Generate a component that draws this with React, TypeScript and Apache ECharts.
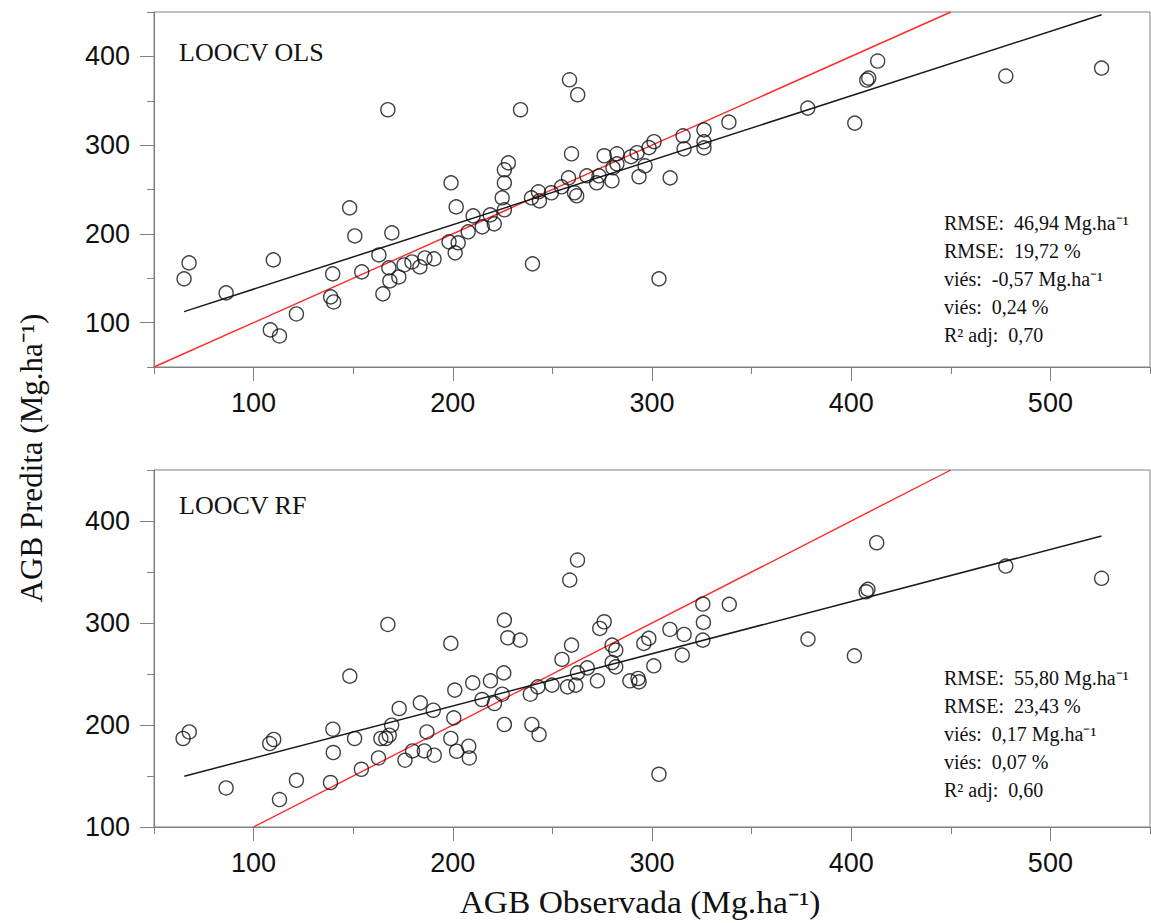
import React, { useEffect, useRef } from "react";
import * as echarts from "echarts";

// ---- Data ----
const olsObs = [
  65.1, 67.6, 86.2, 109.9, 108.4, 113.0, 121.5, 138.7, 140.2, 139.7,
  148.2, 150.8, 154.3, 162.9, 164.9, 167.4, 167.9, 168.4, 169.4, 172.9,
  175.5, 179.5, 183.5, 186.0, 190.6, 199.1, 201.7, 198.1, 202.7, 201.2,
  207.7, 210.2, 214.8, 218.8, 220.8, 225.9, 224.8, 225.9, 225.9, 227.9,
  234.0, 239.5, 240.0, 243.0, 243.5, 249.5, 254.6, 258.1, 258.6, 259.6,
  261.1, 262.2, 262.7, 267.3, 272.2, 273.4, 276.0, 279.9, 280.4, 282.4,
  282.4, 289.5, 292.5, 293.5, 296.5, 298.5, 301.0, 303.5, 309.1, 315.6,
  316.1, 326.1, 326.1, 326.1, 338.6, 378.2, 401.8, 407.8, 408.8, 413.3,
  477.6, 525.7,
];
const olsPred = [
  149.3, 167.3, 133.5, 170.7, 91.8, 85.0, 109.8, 129.0, 123.3, 154.9,
  229.3, 197.7, 157.2, 176.3, 132.4, 339.9, 161.7, 147.0, 201.1, 151.5,
  165.0, 168.4, 162.8, 172.9, 171.8, 257.5, 230.4, 191.0, 189.9, 178.6,
  202.3, 220.3, 207.9, 221.4, 211.3, 227.1, 240.6, 257.5, 272.2, 280.0,
  339.9, 240.6, 166.2, 247.4, 237.2, 246.3, 253.0, 263.1, 373.6, 290.2,
  246.3, 242.9, 356.8, 265.4, 257.5, 265.4, 288.0, 259.8, 274.4, 290.2,
  278.9, 287.0, 291.5, 264.4, 276.7, 297.2, 303.9, 149.3, 263.1, 310.5,
  295.8, 317.2, 303.7, 296.9, 325.9, 341.7, 324.8, 373.3, 375.5, 394.7,
  377.8, 386.8,
];
const rfObs = [
  64.6, 67.7, 86.2, 108.1, 110.1, 113.0, 121.5, 138.6, 140.0, 139.8,
  148.3, 150.7, 154.1, 162.7, 163.9, 167.4, 166.4, 168.1, 169.3, 173.1,
  176.0, 179.8, 183.7, 185.7, 187.0, 190.2, 190.7, 199.0, 201.0, 200.5,
  199.0, 201.9, 208.0, 208.3, 210.0, 214.7, 218.9, 220.9, 224.8, 225.6,
  225.9, 225.9, 227.6, 233.8, 238.9, 239.7, 242.7, 243.3, 249.8, 254.8,
  257.6, 258.7, 259.6, 261.7, 262.6, 262.6, 267.5, 272.6, 273.8, 276.0,
  280.0, 280.0, 281.8, 281.8, 288.9, 293.0, 293.5, 295.9, 298.4, 300.9,
  303.5, 309.0, 315.2, 316.1, 325.5, 325.8, 325.5, 338.8, 378.3, 401.6,
  407.5, 408.4, 412.8, 477.6, 525.7,
];
const rfPred = [
  186.8, 193.2, 138.3, 181.8, 185.8, 126.9, 145.8, 143.6, 173.0, 195.9,
  247.9, 186.8, 156.6, 167.7, 186.8, 298.6, 186.8, 190.0, 199.8, 216.2,
  165.5, 174.6, 221.7, 174.6, 193.2, 214.5, 170.4, 280.0, 234.2, 207.0,
  186.8, 174.3, 179.2, 167.7, 241.3, 225.0, 243.3, 221.1, 230.2, 251.1,
  302.8, 200.5, 285.5, 283.2, 230.2, 200.5, 237.4, 190.7, 239.1, 264.3,
  237.4, 342.1, 278.3, 239.1, 251.1, 361.7, 256.0, 243.3, 294.7, 301.2,
  278.3, 261.3, 273.4, 257.0, 243.3, 245.6, 242.3, 280.0, 284.9, 258.0,
  151.7, 293.7, 268.5, 288.8, 318.6, 300.6, 283.2, 318.3, 284.2, 267.8,
  330.6, 333.0, 378.7, 355.8, 343.8,
];
const olsFit = [[65.1, 112.4], [525.7, 446.9]];
const rfFit = [[65.2, 149.8], [525.7, 385.3]];
const olsIdentity = [[50, 50], [450, 450]];
const rfIdentity = [[100, 100], [450, 450]];
const xTickLabels = [100, 200, 300, 400, 500];
const yTickLabels = [100, 200, 300, 400];
const olsStats = [
  "RMSE:\u00a0 46,94 Mg.ha\u207b\u00b9",
  "RMSE:\u00a0 19,72 %",
  "viés:\u00a0 -0,57 Mg.ha\u207b\u00b9",
  "viés:\u00a0 0,24 %",
  "R\u00b2 adj:\u00a0 0,70",
];
const rfStats = [
  "RMSE:\u00a0 55,80 Mg.ha\u207b\u00b9",
  "RMSE:\u00a0 23,43 %",
  "viés:\u00a0 0,17 Mg.ha\u207b\u00b9",
  "viés:\u00a0 0,07 %",
  "R\u00b2 adj:\u00a0 0,60",
];
const panelTitles = ["LOOCV OLS", "LOOCV RF"];
const xTitle = "AGB Observada (Mg.ha\u207b\u00b9)";
const yTitle = "AGB Predita (Mg.ha\u207b\u00b9)";

const AX = "#808080";
const SANS = "Liberation Sans, Arial, sans-serif";
const SERIF = "Liberation Serif, Times New Roman, serif";

function pairs(xs: number[], ys: number[]) {
  return xs.map((x, i) => [x, ys[i]]);
}

function xAxes(gridIndex: number) {
  return [
    {
      type: "value", gridIndex, min: 50, max: 550, interval: 50, position: "bottom",
      axisLine: { show: true, onZero: false, lineStyle: { color: AX, width: 1 } },
      axisTick: { show: true, length: 7, lineStyle: { color: AX, width: 1 } },
      axisLabel: { show: false }, splitLine: { show: false },
    },
    {
      type: "value", gridIndex, min: 50, max: 550, position: "bottom",
      axisLine: { show: false, onZero: false },
      axisTick: { show: true, length: 14, customValues: xTickLabels, lineStyle: { color: AX, width: 1 } },
      axisLabel: { show: true, customValues: xTickLabels, margin: 22, fontSize: 27, fontFamily: SANS, color: "#111" },
      splitLine: { show: false },
    },
  ];
}

function yAxes(gridIndex: number, min: number) {
  return [
    {
      type: "value", gridIndex, min, max: 450, interval: 50, position: "left",
      axisLine: { show: true, onZero: false, lineStyle: { color: AX, width: 1 } },
      axisTick: { show: true, length: 7, lineStyle: { color: AX, width: 1 } },
      axisLabel: { show: false }, splitLine: { show: false },
    },
    {
      type: "value", gridIndex, min, max: 450, position: "left",
      axisLine: { show: false, onZero: false },
      axisTick: { show: true, length: 14, customValues: yTickLabels, lineStyle: { color: AX, width: 1 } },
      axisLabel: { show: true, customValues: yTickLabels, margin: 24, fontSize: 27, fontFamily: SANS, color: "#111" },
      splitLine: { show: false },
    },
  ];
}

function panelSeries(axisIdx: number, obs: number[], pred: number[], fit: number[][], ident: number[][]) {
  return [
    {
      type: "line", xAxisIndex: axisIdx, yAxisIndex: axisIdx, data: ident,
      symbol: "none", lineStyle: { color: "#ff2a2a", width: 1.4 }, silent: true, z: 2,
    },
    {
      type: "line", xAxisIndex: axisIdx, yAxisIndex: axisIdx, data: fit,
      symbol: "none", lineStyle: { color: "#1a1a1a", width: 1.5 }, silent: true, z: 2,
    },
    {
      type: "scatter", xAxisIndex: axisIdx, yAxisIndex: axisIdx, data: pairs(obs, pred),
      symbol: "circle", symbolSize: 14,
      itemStyle: { color: "rgba(0,0,0,0)", borderColor: "#111", borderWidth: 1.4 },
      silent: true, z: 3,
    },
  ];
}

function statTexts(lines: string[], top: number) {
  return lines.map((t, i) => ({
    type: "text", left: 944, top: top + i * 28,
    style: { text: t, fontSize: 20, fontFamily: SERIF, fill: "#111" },
  }));
}

export default function App() {
  const ref = useRef<HTMLDivElement>(null);
  useEffect(() => {
    document.body.style.margin = "0";
    if (!ref.current) return;
    const chart = echarts.init(ref.current, undefined, { renderer: "svg" });
    const option: any = {
      animation: false,
      backgroundColor: "#ffffff",
      grid: [
        { left: 154, top: 12, width: 996, height: 355, show: true, borderColor: AX, borderWidth: 1, backgroundColor: "transparent" },
        { left: 154, top: 470, width: 996, height: 357, show: true, borderColor: AX, borderWidth: 1, backgroundColor: "transparent" },
      ],
      xAxis: [...xAxes(0), ...xAxes(1)],
      yAxis: [...yAxes(0, 50), ...yAxes(1, 100)],
      series: [
        ...panelSeries(0, olsObs, olsPred, olsFit, olsIdentity),
        ...panelSeries(2, rfObs, rfPred, rfFit, rfIdentity),
      ],
      graphic: [
        { type: "text", left: 179, top: 39, style: { text: panelTitles[0], fontSize: 26, fontFamily: SERIF, fill: "#111" } },
        { type: "text", left: 179, top: 492, style: { text: panelTitles[1], fontSize: 26, fontFamily: SERIF, fill: "#111" } },
        ...statTexts(olsStats, 213),
        ...statTexts(rfStats, 668),
        {
          type: "text", x: 640, y: 902, scaleX: 1.08,
          style: { text: xTitle, fontSize: 31, fontFamily: SERIF, fill: "#111", align: "center", verticalAlign: "middle" },
        },
        {
          type: "text", x: 31, y: 458, rotation: Math.PI / 2,
          style: { text: yTitle, fontSize: 31, fontFamily: SERIF, fill: "#111", align: "center", verticalAlign: "middle" },
        },
      ],
    };
    chart.setOption(option);
    return () => chart.dispose();
  }, []);
  return <div ref={ref} style={{ width: 1151, height: 923 }} />;
}
